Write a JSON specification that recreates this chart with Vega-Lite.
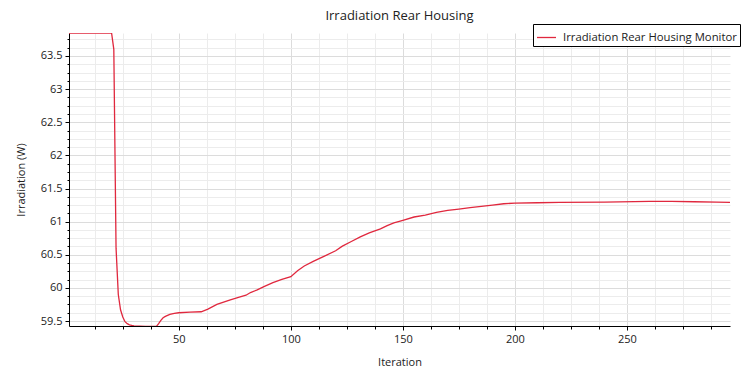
{
  "$schema": "https://vega.github.io/schema/vega-lite/v6.json",
  "width": 661,
  "height": 293,
  "autosize": {"type": "none"},
  "padding": {"left": 69, "top": 33, "right": 21, "bottom": 43},
  "background": "white",
  "title": {"text": "Irradiation Rear Housing", "font": "Open Sans", "fontSize": 13, "fontWeight": "normal", "color": "#222222", "offset": 1, "anchor": "middle"},
  "config": {
    "view": {"stroke": null},
    "axis": {
      "domainColor": "#000000",
      "domainWidth": 1,
      "tickColor": "#000000",
      "labelFont": "Open Sans",
      "labelFontSize": 11,
      "labelColor": "#222222",
      "titleFont": "Open Sans",
      "titleFontSize": 11,
      "titleFontWeight": "normal",
      "titleColor": "#222222",
      "labelOverlap": false,
      "labelBound": false
    }
  },
  "data": {
    "values": [
      {"iteration": 1, "irradiation": 63.847, "series": "Irradiation Rear Housing Monitor"},
      {"iteration": 10, "irradiation": 63.847, "series": "Irradiation Rear Housing Monitor"},
      {"iteration": 20, "irradiation": 63.847, "series": "Irradiation Rear Housing Monitor"},
      {"iteration": 21, "irradiation": 63.6, "series": "Irradiation Rear Housing Monitor"},
      {"iteration": 22, "irradiation": 60.6, "series": "Irradiation Rear Housing Monitor"},
      {"iteration": 23, "irradiation": 59.9, "series": "Irradiation Rear Housing Monitor"},
      {"iteration": 24, "irradiation": 59.67, "series": "Irradiation Rear Housing Monitor"},
      {"iteration": 25, "irradiation": 59.56, "series": "Irradiation Rear Housing Monitor"},
      {"iteration": 26, "irradiation": 59.49, "series": "Irradiation Rear Housing Monitor"},
      {"iteration": 27, "irradiation": 59.46, "series": "Irradiation Rear Housing Monitor"},
      {"iteration": 28, "irradiation": 59.443, "series": "Irradiation Rear Housing Monitor"},
      {"iteration": 29, "irradiation": 59.434, "series": "Irradiation Rear Housing Monitor"},
      {"iteration": 30, "irradiation": 59.428, "series": "Irradiation Rear Housing Monitor"},
      {"iteration": 35, "irradiation": 59.42, "series": "Irradiation Rear Housing Monitor"},
      {"iteration": 40, "irradiation": 59.42, "series": "Irradiation Rear Housing Monitor"},
      {"iteration": 41, "irradiation": 59.46, "series": "Irradiation Rear Housing Monitor"},
      {"iteration": 42, "irradiation": 59.51, "series": "Irradiation Rear Housing Monitor"},
      {"iteration": 43, "irradiation": 59.55, "series": "Irradiation Rear Housing Monitor"},
      {"iteration": 44, "irradiation": 59.57, "series": "Irradiation Rear Housing Monitor"},
      {"iteration": 46, "irradiation": 59.6, "series": "Irradiation Rear Housing Monitor"},
      {"iteration": 48, "irradiation": 59.615, "series": "Irradiation Rear Housing Monitor"},
      {"iteration": 50, "irradiation": 59.625, "series": "Irradiation Rear Housing Monitor"},
      {"iteration": 55, "irradiation": 59.635, "series": "Irradiation Rear Housing Monitor"},
      {"iteration": 60, "irradiation": 59.64, "series": "Irradiation Rear Housing Monitor"},
      {"iteration": 63, "irradiation": 59.68, "series": "Irradiation Rear Housing Monitor"},
      {"iteration": 67, "irradiation": 59.75, "series": "Irradiation Rear Housing Monitor"},
      {"iteration": 73, "irradiation": 59.82, "series": "Irradiation Rear Housing Monitor"},
      {"iteration": 77, "irradiation": 59.86, "series": "Irradiation Rear Housing Monitor"},
      {"iteration": 80, "irradiation": 59.89, "series": "Irradiation Rear Housing Monitor"},
      {"iteration": 82, "irradiation": 59.93, "series": "Irradiation Rear Housing Monitor"},
      {"iteration": 85, "irradiation": 59.97, "series": "Irradiation Rear Housing Monitor"},
      {"iteration": 88, "irradiation": 60.02, "series": "Irradiation Rear Housing Monitor"},
      {"iteration": 92, "irradiation": 60.08, "series": "Irradiation Rear Housing Monitor"},
      {"iteration": 96, "irradiation": 60.13, "series": "Irradiation Rear Housing Monitor"},
      {"iteration": 100, "irradiation": 60.17, "series": "Irradiation Rear Housing Monitor"},
      {"iteration": 103, "irradiation": 60.26, "series": "Irradiation Rear Housing Monitor"},
      {"iteration": 106, "irradiation": 60.33, "series": "Irradiation Rear Housing Monitor"},
      {"iteration": 110, "irradiation": 60.4, "series": "Irradiation Rear Housing Monitor"},
      {"iteration": 115, "irradiation": 60.48, "series": "Irradiation Rear Housing Monitor"},
      {"iteration": 120, "irradiation": 60.56, "series": "Irradiation Rear Housing Monitor"},
      {"iteration": 123, "irradiation": 60.63, "series": "Irradiation Rear Housing Monitor"},
      {"iteration": 127, "irradiation": 60.7, "series": "Irradiation Rear Housing Monitor"},
      {"iteration": 131, "irradiation": 60.77, "series": "Irradiation Rear Housing Monitor"},
      {"iteration": 135, "irradiation": 60.83, "series": "Irradiation Rear Housing Monitor"},
      {"iteration": 140, "irradiation": 60.89, "series": "Irradiation Rear Housing Monitor"},
      {"iteration": 143, "irradiation": 60.94, "series": "Irradiation Rear Housing Monitor"},
      {"iteration": 146, "irradiation": 60.98, "series": "Irradiation Rear Housing Monitor"},
      {"iteration": 150, "irradiation": 61.02, "series": "Irradiation Rear Housing Monitor"},
      {"iteration": 155, "irradiation": 61.07, "series": "Irradiation Rear Housing Monitor"},
      {"iteration": 160, "irradiation": 61.1, "series": "Irradiation Rear Housing Monitor"},
      {"iteration": 165, "irradiation": 61.14, "series": "Irradiation Rear Housing Monitor"},
      {"iteration": 170, "irradiation": 61.17, "series": "Irradiation Rear Housing Monitor"},
      {"iteration": 175, "irradiation": 61.19, "series": "Irradiation Rear Housing Monitor"},
      {"iteration": 180, "irradiation": 61.21, "series": "Irradiation Rear Housing Monitor"},
      {"iteration": 185, "irradiation": 61.23, "series": "Irradiation Rear Housing Monitor"},
      {"iteration": 190, "irradiation": 61.25, "series": "Irradiation Rear Housing Monitor"},
      {"iteration": 195, "irradiation": 61.27, "series": "Irradiation Rear Housing Monitor"},
      {"iteration": 200, "irradiation": 61.28, "series": "Irradiation Rear Housing Monitor"},
      {"iteration": 210, "irradiation": 61.285, "series": "Irradiation Rear Housing Monitor"},
      {"iteration": 220, "irradiation": 61.29, "series": "Irradiation Rear Housing Monitor"},
      {"iteration": 240, "irradiation": 61.295, "series": "Irradiation Rear Housing Monitor"},
      {"iteration": 260, "irradiation": 61.305, "series": "Irradiation Rear Housing Monitor"},
      {"iteration": 270, "irradiation": 61.305, "series": "Irradiation Rear Housing Monitor"},
      {"iteration": 280, "irradiation": 61.3, "series": "Irradiation Rear Housing Monitor"},
      {"iteration": 290, "irradiation": 61.295, "series": "Irradiation Rear Housing Monitor"},
      {"iteration": 296, "irradiation": 61.29, "series": "Irradiation Rear Housing Monitor"}
    ]
  },
  "mark": {"type": "line", "strokeWidth": 1.3, "clip": true},
  "encoding": {
    "x": {
      "field": "iteration",
      "type": "quantitative",
      "scale": {"domain": [1, 296], "nice": false, "zero": false},
      "axis": {
        "title": "Iteration",
        "values": [12.5, 25, 37.5, 50, 62.5, 75, 87.5, 100, 112.5, 125, 137.5, 150, 162.5, 175, 187.5, 200, 212.5, 225, 237.5, 250, 262.5, 275, 287.5],
        "labelExpr": "datum.value % 50 == 0 ? format(datum.value, 'd') : ''",
        "tickSize": {"condition": {"test": "datum.value % 50 == 0", "value": 4}, "value": 3},
        "gridColor": {"condition": {"test": "datum.value % 50 == 0", "value": "#dcdcdc"}, "value": "#ececec"},
        "labelPadding": 3,
        "titlePadding": 12
      }
    },
    "y": {
      "field": "irradiation",
      "type": "quantitative",
      "scale": {"domain": [59.425, 63.847], "nice": false, "zero": false},
      "axis": {
        "title": "Irradiation (W)",
        "values": [59.5, 59.625, 59.75, 59.875, 60, 60.125, 60.25, 60.375, 60.5, 60.625, 60.75, 60.875, 61, 61.125, 61.25, 61.375, 61.5, 61.625, 61.75, 61.875, 62, 62.125, 62.25, 62.375, 62.5, 62.625, 62.75, 62.875, 63, 63.125, 63.25, 63.375, 63.5, 63.625, 63.75],
        "labelExpr": "abs(datum.value * 2 - round(datum.value * 2)) < 0.001 ? format(datum.value, '.3~f') : ''",
        "tickSize": {"condition": {"test": "abs(datum.value * 2 - round(datum.value * 2)) < 0.001", "value": 4}, "value": 2},
        "gridColor": {"condition": {"test": "abs(datum.value * 2 - round(datum.value * 2)) < 0.001", "value": "#dcdcdc"}, "value": "#ececec"},
        "labelPadding": 3,
        "titlePadding": 14
      }
    },
    "color": {
      "field": "series",
      "type": "nominal",
      "scale": {"range": ["#e0283e"]},
      "legend": {
        "title": null,
        "orient": "none",
        "legendX": 464,
        "legendY": -9,
        "strokeColor": "#000000",
        "fillColor": "#ffffff",
        "padding": 3,
        "symbolType": "stroke",
        "symbolSize": 361,
        "symbolStrokeWidth": 1.3,
        "labelFont": "Open Sans",
        "labelFontSize": 11.3,
        "labelLimit": 400,
        "labelColor": "#222222",
        "labelOffset": 6
      }
    }
  }
}
